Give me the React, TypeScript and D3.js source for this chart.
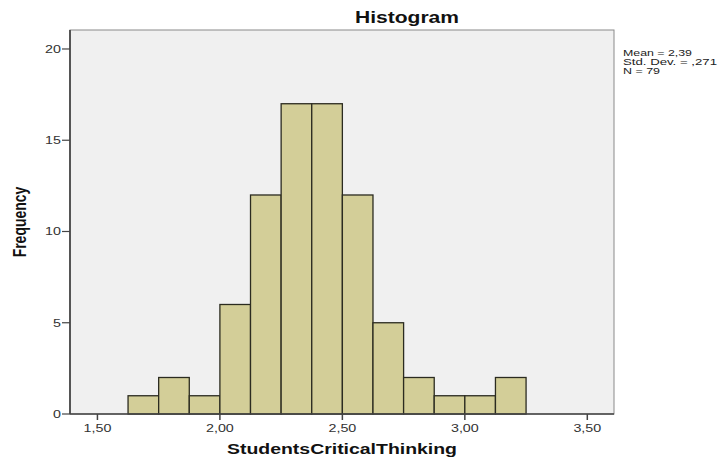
import React from "react";
import * as d3 from "d3";

const binStarts = [1.625, 1.75, 1.875, 2.0, 2.125, 2.25, 2.375, 2.5, 2.625, 2.75, 2.875, 3.0, 3.125];
const counts = [1, 2, 1, 6, 12, 17, 17, 12, 5, 2, 1, 1, 2];
const binWidth = 0.125;
const xTicks = [1.5, 2.0, 2.5, 3.0, 3.5];
const yTicks = [0, 5, 10, 15, 20];
const statsLines = ["Mean = 2,39", "Std. Dev. = ,271", "N = 79"];
const statsWidths = [69, 94, 37];

const W = 724, H = 458;
const left = 70, right = 614, top = 30, bottom = 414;
const SX = 1.3;

export default function App() {
  const x = d3.scaleLinear().domain([1.388, 3.609]).range([left, right]);
  const y = d3.scaleLinear().domain([0, 21.04]).range([bottom, top]);
  const fmt = (v: number) => v.toFixed(2).replace(".", ",");
  const font = "'Liberation Sans', Arial, sans-serif";
  return (
    <svg width={W} height={H} style={{ position: "absolute", left: 0, top: 0, background: "#fff" }} fontFamily={font}>
      <rect x={left} y={top} width={right - left} height={bottom - top} fill="#f0f0f0" stroke="#8a8a8a" strokeWidth={1} />
      {binStarts.map((b, i) => (
        <rect key={i} x={x(b)} y={y(counts[i])} width={x(b + binWidth) - x(b)} height={y(0) - y(counts[i])}
          fill="#d3ce98" stroke="#2b2b20" strokeWidth={1.3} />
      ))}
      <line x1={left} x2={left} y1={top} y2={bottom} stroke="#555" strokeWidth={2} />
      <line x1={left} x2={right} y1={bottom} y2={bottom} stroke="#444" strokeWidth={1.5} />
      {yTicks.map(t => (
        <g key={t}>
          <line x1={left - 8} x2={left} y1={y(t)} y2={y(t)} stroke="#444" strokeWidth={1.2} />
          <g transform={`translate(${left - 9},${y(t)}) scale(${SX},1)`}>
            <text dy="0.35em" textAnchor="end" fontSize={11} fill="#333">{t}</text>
          </g>
        </g>
      ))}
      {xTicks.map(t => (
        <g key={t}>
          <line x1={x(t)} x2={x(t)} y1={bottom} y2={bottom + 6} stroke="#444" strokeWidth={1.5} />
          <g transform={`translate(${x(t)},${bottom + 18}) scale(${SX},1)`}>
            <text textAnchor="middle" fontSize={11} fill="#333">{fmt(t)}</text>
          </g>
        </g>
      ))}
      <text x={355} y={23} fontSize={16} fontWeight="bold" fill="#111" textLength={104} lengthAdjust="spacingAndGlyphs">Histogram</text>
      <text x={227} y={454} fontSize={14} fontWeight="bold" fill="#111" textLength={230} lengthAdjust="spacingAndGlyphs">StudentsCriticalThinking</text>
      <g transform={`translate(26,222) rotate(-90) scale(1,${SX})`}>
        <text textAnchor="middle" fontSize={14} fontWeight="bold" fill="#111">Frequency</text>
      </g>
      {statsLines.map((s, i) => (
        <text key={i} x={623} y={56 + i * 9} fontSize={8.5} fill="#222" textLength={statsWidths[i]} lengthAdjust="spacingAndGlyphs">{s}</text>
      ))}
    </svg>
  );
}
